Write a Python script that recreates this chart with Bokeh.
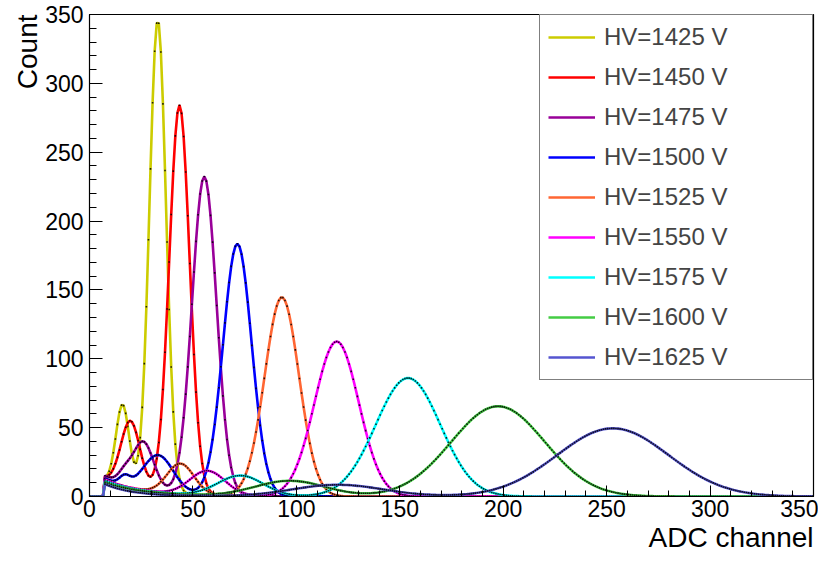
import numpy as np
from bokeh.plotting import figure
from bokeh.models import Legend, LegendItem, FixedTicker, Range1d, ColumnDataSource, Title
from bokeh.embed import file_html
from bokeh.resources import INLINE

# ---- data ----
hv_labels = ["HV=1425 V", "HV=1450 V", "HV=1475 V", "HV=1500 V", "HV=1525 V",
             "HV=1550 V", "HV=1575 V", "HV=1600 V", "HV=1625 V"]
# main photo-peak (fitted gaussian): position, height, width (ADC channels / counts)
main_mean = [33.0, 43.5, 55.5, 71.5, 93.0, 119.5, 154.0, 197.5, 253.0]
main_height = [343.0, 282.0, 231.0, 183.0, 144.5, 112.5, 86.0, 65.5, 49.5]
main_sigma = [4.0, 4.9, 5.9, 6.9, 8.3, 10.7, 15.6, 22.6, 27.0]
# secondary (low-energy) peak
sec_mean = [16.0, 19.8, 26.0, 33.3, 44.0, 57.0, 73.0, 97.0, 120.0]
sec_height = [59.0, 48.0, 34.0, 26.5, 22.0, 17.7, 14.8, 11.3, 8.5]
sec_sigma = [3.2, 4.6, 5.0, 7.2, 6.5, 8.5, 11.0, 17.0, 22.0]
# small shoulder near threshold
sh_mean = [17.0, 17.0, 17.0, 17.0, 17.0, 17.0, 17.0, 17.0, 17.0]
sh_height = [0.0, 0.0, 7.0, 6.0, 0.0, 0.0, 0.0, 0.0, 0.0]
sh_sigma = [3.0, 3.0, 3.0, 2.5, 3.0, 3.0, 3.0, 3.0, 3.0]
# low-channel background
bg_level = [12.0, 13.0, 15.0, 13.0, 12.0, 12.0, 11.0, 10.0, 9.0]
bg_decay = [20.0, 20.0, 20.0, 20.0, 20.0, 20.0, 20.0, 20.0, 14.0]
threshold = 7.5
n_channels = 350

x_ticks = [0, 50, 100, 150, 200, 250, 300, 350]
y_ticks = [0, 50, 100, 150, 200, 250, 300, 350]
x_title = "ADC channel"
y_title = "Count"

colors = ["#cccc00", "#ff0000", "#990099", "#0000ff", "#ff6633",
          "#ff00ff", "#00ffff", "#44cc44", "#5555d0"]


def gauss(x, a, m, s):
    return a * np.exp(-0.5 * ((x - m) / s) ** 2)


ch = np.arange(n_channels) + 0.5

p = figure(width=818, height=552, output_backend="svg", toolbar_location=None,
           x_range=Range1d(0, 350), y_range=Range1d(0, 350),
           min_border_left=89, min_border_right=5, min_border_top=14,
           min_border_bottom=0)
p.background_fill_color = "white"
p.border_fill_color = "white"
p.outline_line_color = "black"
p.outline_line_width = 1.2
p.grid.visible = False

items = []
for i in range(9):
    y = (gauss(ch, main_height[i], main_mean[i], main_sigma[i])
         + gauss(ch, sec_height[i], sec_mean[i], sec_sigma[i])
         + gauss(ch, sh_height[i], sh_mean[i], sh_sigma[i])
         + bg_level[i] * np.exp(-(ch - threshold) / bg_decay[i]))
    y = np.where(ch < threshold, 0.0, y)
    src = ColumnDataSource(dict(x=ch, y=y))
    r = p.line("x", "y", source=src, line_color=colors[i], line_width=2.6)
    p.scatter("x", "y", source=src, marker="square", size=1.6,
              fill_color="black", line_color=None, fill_alpha=0.85)
    items.append(LegendItem(label=hv_labels[i], renderers=[r]))

legend = Legend(items=items, location="top_right", margin=0, padding=8,
                spacing=12, glyph_width=47, glyph_height=28, label_height=28,
                label_width=200, label_standoff=9,
                label_text_font="Liberation Sans", label_text_font_size="24px",
                border_line_color="black", border_line_width=1.2,
                background_fill_alpha=1.0)
p.add_layout(legend)

for ax in (p.xaxis[0], p.yaxis[0]):
    ax.major_label_text_font = "Liberation Sans"
    ax.major_label_text_font_size = "23px"
    ax.major_label_text_color = "black"
    ax.major_tick_out = 0
    ax.minor_tick_out = 0
    ax.axis_line_color = "black"
    ax.major_tick_line_color = "black"
    ax.minor_tick_line_color = "black"

p.xaxis.ticker = FixedTicker(ticks=x_ticks, minor_ticks=list(range(0, 351, 10)))
p.yaxis.ticker = FixedTicker(ticks=y_ticks, minor_ticks=list(range(0, 351, 10)))
p.xaxis.major_tick_in = 11
p.xaxis.minor_tick_in = 6
p.yaxis.major_tick_in = 13
p.yaxis.minor_tick_in = 7
p.xaxis.major_label_standoff = 3
p.yaxis.major_label_standoff = 6

# axis titles, ROOT style (aligned to the axis ends)
xt = Title(text=x_title, align="right", vertical_align="bottom", standoff=0,
           offset=0, text_font="Liberation Sans", text_font_size="28px",
           text_font_style="normal", text_color="black")
yt = Title(text=y_title, align="right", vertical_align="bottom", standoff=0,
           offset=0, text_font="Liberation Sans", text_font_size="28px",
           text_font_style="normal", text_color="black")
p.add_layout(xt, "below")
p.add_layout(yt, "left")

open("out.html", "w").write(file_html(p, INLINE))
